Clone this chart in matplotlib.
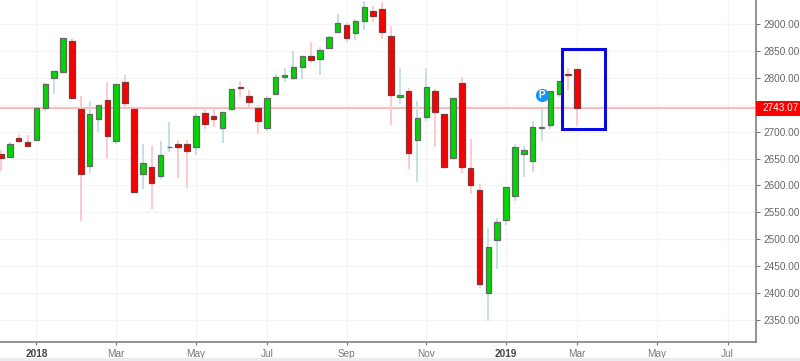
import matplotlib
matplotlib.use('Agg')
import matplotlib.pyplot as plt
from matplotlib.patches import Rectangle

opens = [2658.4, 2652.8, 2687.5, 2681.2, 2683.8, 2743.9, 2800.2, 2810.2, 2868.9, 2742.6, 2636.6,
         2724.0, 2758.7, 2682.0, 2792.7, 2742.6, 2620.6, 2634.2, 2617.5, 2670.8, 2676.4, 2676.4,
         2671.4, 2734.0, 2728.4, 2706.7, 2742.6, 2782.3, 2766.7, 2743.9, 2706.7, 2769.3, 2801.5,
         2800.2, 2819.5, 2841.1, 2835.5, 2855.4, 2885.7, 2898.1, 2883.3, 2905.6, 2924.2, 2928.4,
         2878.2, 2764.3, 2774.9, 2683.8, 2727.7, 2774.9, 2732.7, 2651.5, 2790.9, 2632.3, 2591.4,
         2400.6, 2499.1, 2536.3, 2580.3, 2657.8, 2644.8, 2706.1, 2712.8, 2769.9, 2806.5, 2816.9]
closes = [2650.9, 2676.4, 2683.1, 2673.8, 2743.9, 2787.9, 2812.1, 2873.4, 2763.0, 2621.2, 2732.7,
          2748.9, 2691.8, 2787.9, 2753.7, 2588.3, 2642.2, 2604.4, 2656.5, 2671.9, 2670.8, 2664.5,
          2729.5, 2714.7, 2722.8, 2735.9, 2779.2, 2780.5, 2755.6, 2719.7, 2761.9, 2802.0, 2804.6,
          2820.1, 2841.1, 2833.6, 2851.1, 2876.4, 2902.4, 2873.4, 2905.6, 2931.6, 2915.4, 2885.7,
          2768.0, 2768.6, 2659.7, 2724.7, 2782.9, 2737.0, 2634.2, 2761.9, 2633.6, 2600.7, 2416.7,
          2486.1, 2532.0, 2597.0, 2671.4, 2666.4, 2708.5, 2708.5, 2776.0, 2794.0, 2804.6, 2743.07]
highs = [2665.8, 2681.2, 2695.5, 2694.2, 2743.9, 2789.8, 2812.1, 2873.4, 2873.4, 2765.6, 2756.3,
         2748.9, 2791.6, 2787.9, 2804.6, 2742.6, 2676.4, 2673.2, 2682.0, 2718.4, 2684.4, 2684.4,
         2734.0, 2743.9, 2744.4, 2735.9, 2779.2, 2793.5, 2777.3, 2747.6, 2766.2, 2807.0, 2818.8,
         2849.8, 2841.1, 2866.0, 2857.8, 2877.7, 2918.6, 2901.3, 2909.3, 2942.7, 2934.0, 2941.4,
         2896.3, 2818.8, 2780.5, 2756.9, 2817.7, 2779.7, 2732.7, 2761.9, 2800.9, 2686.2, 2602.0,
         2521.4, 2538.9, 2597.0, 2676.4, 2672.7, 2719.1, 2741.4, 2776.0, 2794.0, 2817.7, 2816.9]
lows = [2626.8, 2652.8, 2678.3, 2673.8, 2683.8, 2738.8, 2770.4, 2810.2, 2763.0, 2534.4, 2623.6,
        2699.3, 2649.6, 2676.9, 2745.2, 2588.3, 2593.9, 2555.6, 2612.4, 2662.6, 2613.8, 2595.7,
        2657.1, 2704.3, 2709.1, 2678.3, 2742.6, 2764.9, 2745.2, 2695.0, 2701.1, 2769.3, 2791.6,
        2795.9, 2798.3, 2826.9, 2804.6, 2855.4, 2885.7, 2866.0, 2869.7, 2888.8, 2904.3, 2871.6,
        2712.3, 2751.3, 2629.9, 2605.8, 2720.3, 2671.9, 2634.2, 2651.5, 2623.6, 2584.6, 2409.9,
        2348.5, 2445.2, 2526.4, 2571.6, 2615.6, 2624.9, 2683.1, 2705.4, 2763.7, 2777.3, 2710.4]

last_price = 2743.07
y_grid = [2350, 2400, 2450, 2500, 2550, 2600, 2650, 2700, 2750, 2800, 2850, 2900]
y_labelled = [2350, 2400, 2450, 2500, 2550, 2600, 2650, 2700, 2800, 2850, 2900]
y_top_label = 2950
x_tick_pos = [4, 13, 22, 30, 39, 48, 57, 65, 74, 82]
x_tick_labels = ['2018', 'Mar', 'May', 'Jul', 'Sep', 'Nov', '2019', 'Mar', 'May', 'Jul']
bold_labels = ['2018', '2019']

plt.rcParams['font.family'] = ['Liberation Sans', 'DejaVu Sans']

fig = plt.figure(figsize=(8, 3.61), dpi=100)
ax = fig.add_axes([0, 19 / 361, 756 / 800, 342 / 361])
ax.set_xlim(-0.113, 85.2)
ax.set_ylim(2309, 2944.6)

# grid
for y in y_grid:
    ax.axhline(y, color='#f4f4f4', lw=0.9, zorder=0)
for x in x_tick_pos:
    ax.axvline(x, color='#f4f4f4', lw=0.9, zorder=0)

ax.axhline(last_price, color='#ffb3b3', lw=1.3, zorder=1)

# candles
for i in range(len(opens)):
    up = closes[i] >= opens[i]
    ax.vlines(i, lows[i], highs[i], color='#c9dee5' if up else '#ffc9ce', lw=1.4, zorder=2)
    ax.bar(i, abs(closes[i] - opens[i]), bottom=min(opens[i], closes[i]), width=0.62,
           color='#00d600' if up else '#fb0000', edgecolor='#5f6b5f' if up else '#7a3a3a',
           lw=0.9, zorder=3)

for side in ['top', 'left']:
    ax.spines[side].set_visible(False)
ax.spines['right'].set_color('#777777')
ax.spines['bottom'].set_color('#777777')
ax.spines['right'].set_linewidth(1.1)
ax.spines['bottom'].set_linewidth(1.1)

ax.yaxis.tick_right()
ax.set_yticks(y_labelled)
ax.set_yticklabels(['%.2f' % y for y in y_labelled])
ax.tick_params(axis='y', length=3, width=0.8, color='#777777', labelcolor='#666666',
               labelsize=7.2, pad=2)
ax.set_xticks(x_tick_pos)
ax.set_xticklabels(x_tick_labels)
ax.tick_params(axis='x', length=2.5, width=0.8, color='#777777', labelcolor='#777777',
               labelsize=7.2, pad=2.5)
for lab in ax.get_xticklabels():
    if lab.get_text() in bold_labels:
        lab.set_fontweight('bold')
        lab.set_color('#444444')

# top label is cut by the edge of the picture, same as the original
ax.annotate('%.2f' % y_top_label, xy=(1, y_top_label), xycoords=('axes fraction', 'data'),
            xytext=(4.4, 0), textcoords='offset points', va='center', ha='left',
            color='#666666', fontsize=7.2, annotation_clip=False)

# current price tag
ax.annotate('%.2f' % last_price, xy=(1, last_price), xycoords=('axes fraction', 'data'),
            xytext=(4.4, 0), textcoords='offset points', va='center', ha='left',
            color='white', fontsize=7.2, annotation_clip=False, zorder=6)
ax.add_patch(Rectangle((1, last_price - 14), 44 / 756, 28,
                       transform=ax.get_yaxis_transform(), color='#fb0000', lw=0,
                       clip_on=False, zorder=5))

# P marker
ax.plot([61], [2768], 'o', ms=9.5, color='#1b95f5', mec='none', zorder=4)
ax.text(61, 2767.5, 'P', color='white', fontsize=7, fontweight='bold', ha='center',
        va='center', zorder=5)

# blue highlight box
ax.add_patch(Rectangle((63.35, 2704.3), 4.82, 149.2, fill=False, edgecolor='#0a0ae0',
                       lw=2.2, zorder=4))

# strip at the bottom of the page
fig.patches.append(Rectangle((0, 0), 1, 3 / 361, transform=fig.transFigure,
                             color='#ececf0', lw=0))

fig.savefig('out.png', dpi=100)
